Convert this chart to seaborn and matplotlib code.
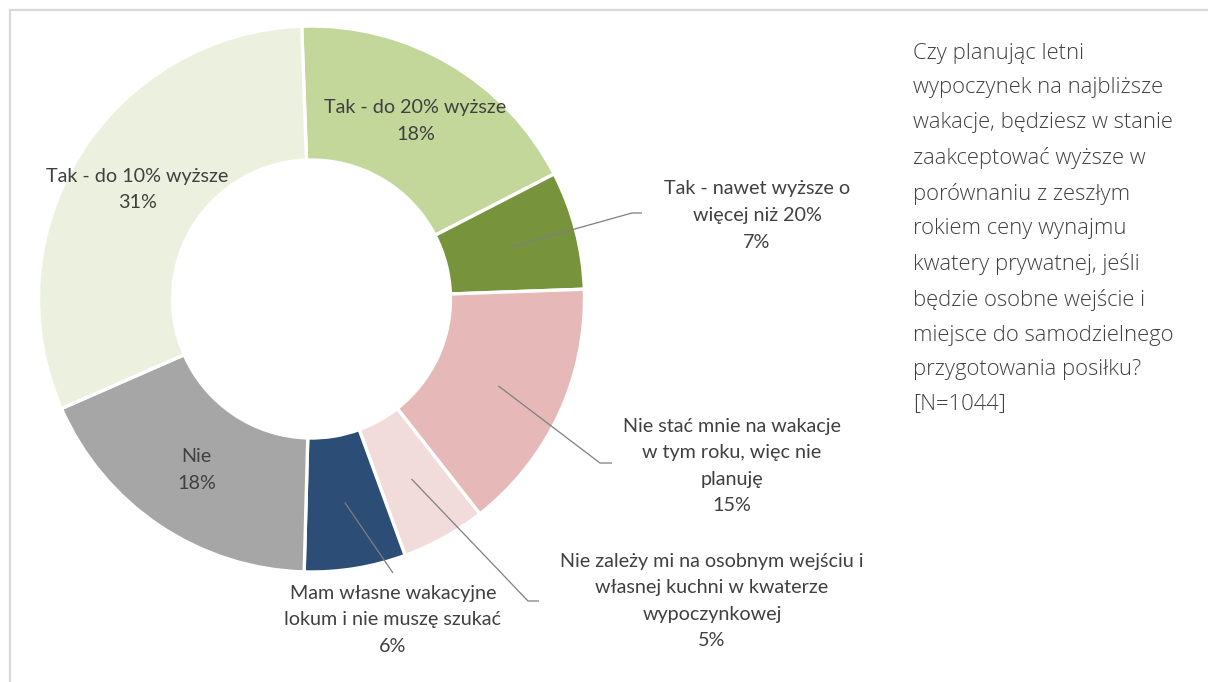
import numpy as np
import matplotlib
matplotlib.use("Agg")
import matplotlib.pyplot as plt
import seaborn as sns
from matplotlib.patches import Rectangle

# ---------------- data ----------------
categories = [
    "Tak - do 20% wyższe",
    "Tak - nawet wyższe o\nwięcej niż 20%",
    "Nie stać mnie na wakacje\nw tym roku, więc nie\nplanuję",
    "Nie zależy mi na osobnym wejściu i\nwłasnej kuchni w kwaterze\nwypoczynkowej",
    "Mam własne wakacyjne\nlokum i nie muszę szukać",
    "Nie",
    "Tak - do 10% wyższe",
]
values = [18, 7, 15, 5, 6, 18, 31]
colors = ["#C4D79B", "#77933C", "#E6B9B8", "#F2DCDB", "#2C4D75", "#A6A6A6", "#EBF1DE"]
question = ("Czy planując letni\nwypoczynek na najbliższe\nwakacje, będziesz w stanie\n"
            "zaakceptować wyższe w\nporównaniu z zeszłym\nrokiem ceny wynajmu\n"
            "kwatery prywatnej, jeśli\nbędzie osobne wejście i\nmiejsce do samodzielnego\n"
            "przygotowania posiłku?\n[N=1044]")

# ---------------- style ----------------
sns.set_theme(style="white")
plt.rcParams['font.family'] = ['Lato', 'DejaVu Sans']

W, H = 1208, 682
fig = plt.figure(figsize=(W / 100, H / 100), dpi=100)
ax = fig.add_axes([0, 0, 1, 1])

def Y(py):
    return H - py

cx, cy = 311.5, Y(299)
R_out, R_in = 273.0, 139.0
start = 92.06

ax.pie(values, colors=colors, startangle=start, counterclock=False,
       center=(cx, cy), radius=R_out, frame=True,
       wedgeprops=dict(width=R_out - R_in, edgecolor="white", linewidth=2.4))
ax.set_xlim(0, W)
ax.set_ylim(0, H)
ax.set_aspect('equal')
ax.axis('off')

# frame
ax.add_patch(Rectangle((10, -20), W + 50, Y(10) + 20, fill=False,
                       edgecolor="#D9D9D9", linewidth=1.6))

vals = np.array(values, dtype=float)
cum = np.cumsum(vals) - vals / 2
mid_theta = np.deg2rad(start - cum / vals.sum() * 360)
r_mid = (R_out + R_in) / 2
mx = cx + r_mid * np.cos(mid_theta)
my = cy + r_mid * np.sin(mid_theta)

txt_color = "#404040"
fs = 14.2
ls = 1.68

# inside labels
for i in [0, 5, 6]:
    ax.text(mx[i], my[i], f"{categories[i]}\n{values[i]}%", ha="center", va="center",
            fontsize=fs, color=txt_color, linespacing=ls)

# outside labels: (text center), leader elbow and end
outside = {
    1: ((757, 215.5), [(632, 213), (642, 213)]),
    2: ((731.7, 466), [(600, 463), (612, 463)]),
    3: ((712, 601), [(528, 601), (539, 601)]),
    4: ((393, 620), [(393, 573)]),
}
for i, ((tx, ty), pts) in outside.items():
    xs = [mx[i]] + [p[0] for p in pts]
    ys = [my[i]] + [Y(p[1]) for p in pts]
    ax.plot(xs, ys, color="#7F7F7F", linewidth=0.9, solid_capstyle="butt")
    ax.text(tx, Y(ty), f"{categories[i]}\n{values[i]}%", ha="center", va="center",
            fontsize=fs, color=txt_color, linespacing=ls)

# question text
ax.text(913, Y(43), question, ha="left", va="top", fontsize=15.8,
        color="#404040", linespacing=1.83, family=['Open Sans', 'Lato', 'DejaVu Sans'],
        fontweight=300)

fig.savefig("out.png", dpi=100)
